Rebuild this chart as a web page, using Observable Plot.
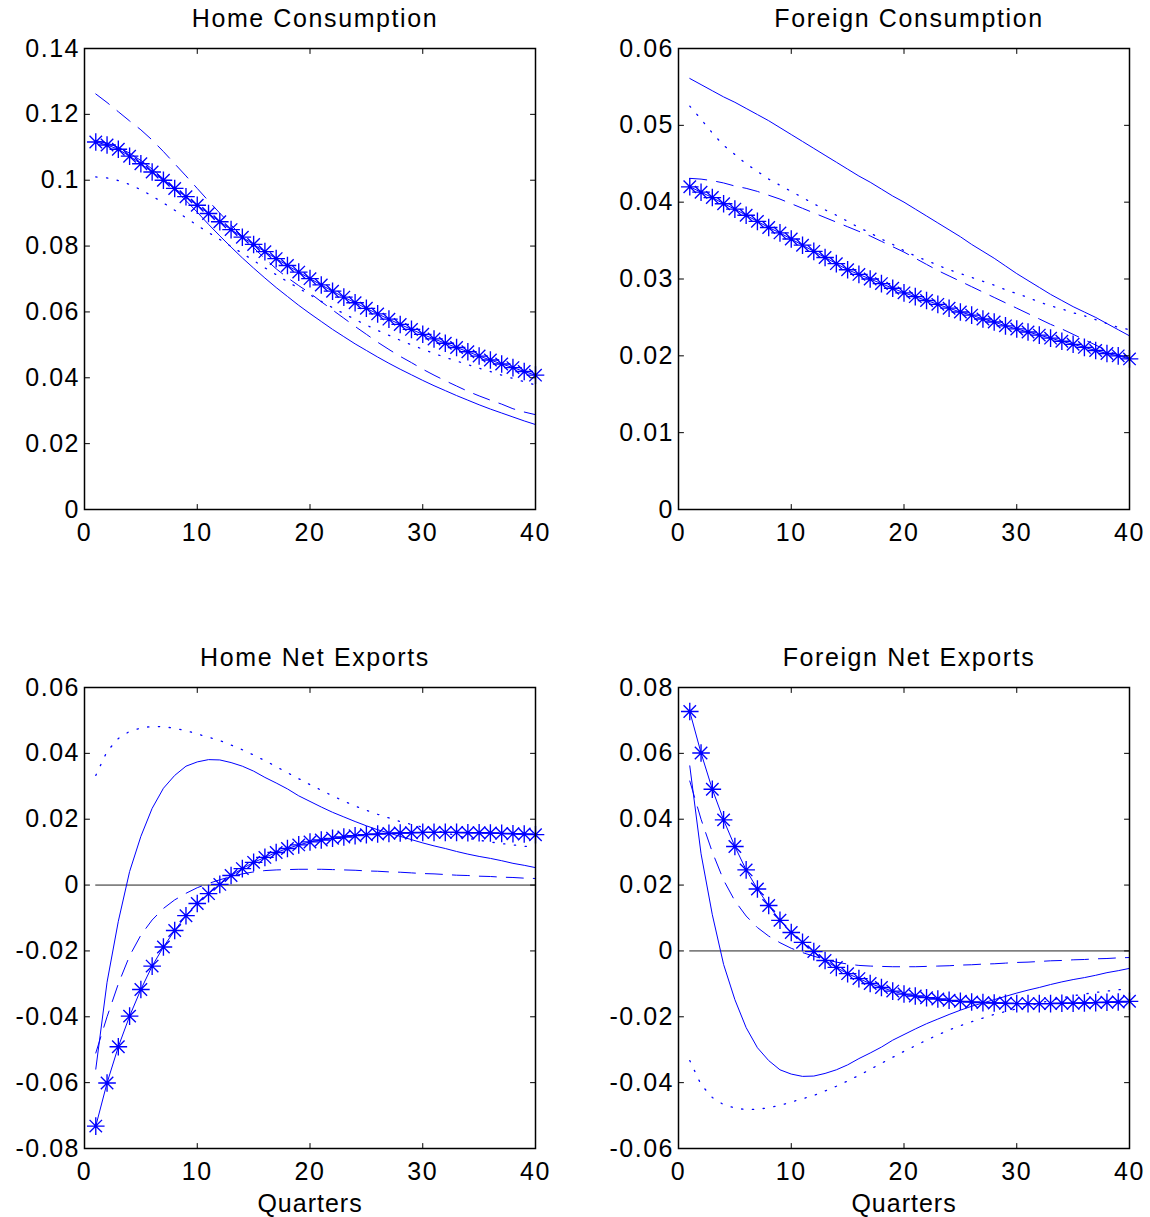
<!DOCTYPE html>
<html>
<head>
<meta charset="utf-8">
<script src="https://cdn.jsdelivr.net/npm/d3@7"></script>
<script src="https://cdn.jsdelivr.net/npm/@observablehq/plot@0.6"></script>
<style>
  html, body { margin: 0; padding: 0; background: #fff; }
  #chart { position: relative; width: 1150px; height: 1217px; background: #fff; }
  .panel { position: absolute; }
</style>
</head>
<body>
<div id="chart"></div>
<script>
// ---------- data ----------
const quarters = [1,2,3,4,5,6,7,8,9,10,11,12,13,14,15,16,17,18,19,20,21,22,23,24,25,26,27,28,29,30,31,32,33,34,35,36,37,38,39,40];
const xTicks = [0, 10, 20, 30, 40];

// Home Consumption
const hcTicks = [0, 0.02, 0.04, 0.06, 0.08, 0.1, 0.12, 0.14];
const hcSolid  = [.1120,.1113,.1100,.1082,.1060,.1034,.1004,.0972,.0938,.0903,.0866,.0831,.0797,.0764,.0733,.0703,.0674,.0647,.0620,.0595,.0571,.0547,.0525,.0503,.0483,.0463,.0444,.0426,.0409,.0392,.0376,.0361,.0346,.0332,.0318,.0305,.0293,.0281,.0269,.0258];
const hcDashed = [.1262,.1236,.1208,.1180,.1153,.1122,.1087,.1050,.1013,.0975,.0937,.0900,.0864,.0829,.0795,.0762,.0731,.0704,.0680,.0657,.0631,.0606,.0581,.0556,.0532,.0508,.0486,.0465,.0446,.0426,.0408,.0391,.0375,.0359,.0345,.0332,.0320,.0306,.0296,.0288];
const hcDotted = [.1010,.1007,.0999,.0987,.0971,.0952,.0931,.0909,.0886,.0863,.0841,.0820,.0799,.0778,.0756,.0734,.0713,.0692,.0672,.0652,.0632,.0613,.0595,.0577,.0560,.0544,.0529,.0514,.0500,.0487,.0474,.0462,.0451,.0440,.0429,.0419,.0408,.0398,.0388,.0378];
const hcStar   = [.1116,.1107,.1094,.1073,.1050,.1025,.1000,.0975,.0950,.0924,.0899,.0874,.0850,.0827,.0805,.0783,.0762,.0741,.0721,.0701,.0682,.0663,.0645,.0628,.0611,.0594,.0578,.0562,.0547,.0532,.0518,.0505,.0492,.0479,.0466,.0454,.0442,.0431,.0419,.0408];

// Foreign Consumption
const fcTicks = [0, 0.01, 0.02, 0.03, 0.04, 0.05, 0.06];
const fcSolid  = [.0561,.0553,.0545,.0537,.0530,.0522,.0514,.0506,.0497,.0488,.0479,.0470,.0461,.0452,.0443,.0434,.0426,.0417,.0408,.0400,.0391,.0382,.0373,.0364,.0355,.0345,.0336,.0327,.0317,.0307,.0298,.0289,.0280,.0272,.0264,.0257,.0250,.0242,.0234,.0226];
const fcDashed = [.0431,.0430,.0428,.0425,.0421,.0418,.0414,.0409,.0404,.0398,.0392,.0386,.0380,.0374,.0368,.0362,.0356,.0349,.0342,.0335,.0327,.0319,.0311,.0304,.0297,.0290,.0283,.0276,.0269,.0262,.0255,.0248,.0241,.0235,.0228,.0221,.0214,.0207,.0201,.0197];
const fcDotted = [.0525,.0508,.0490,.0474,.0462,.0450,.0440,.0430,.0422,.0414,.0406,.0398,.0390,.0383,.0375,.0367,.0360,.0352,.0345,.0337,.0330,.0324,.0318,.0312,.0307,.0302,.0297,.0292,.0286,.0281,.0276,.0270,.0265,.0261,.0256,.0252,.0247,.0242,.0237,.0234];
const fcStar   = [.0420,.0413,.0406,.0398,.0391,.0383,.0375,.0367,.0360,.0352,.0344,.0336,.0328,.0320,.0312,.0306,.0300,.0294,.0288,.0282,.0277,.0272,.0267,.0262,.0257,.0253,.0248,.0244,.0239,.0235,.0231,.0227,.0223,.0219,.0215,.0211,.0207,.0203,.0200,.0196];

// Home Net Exports
const hnTicks = [-0.08, -0.06, -0.04, -0.02, 0, 0.02, 0.04, 0.06];
const hnSolid  = [-.0559,-.0295,-.0110,.0041,.0148,.0233,.0294,.0333,.0361,.0374,.0381,.0380,.0372,.0361,.0346,.0327,.0310,.0292,.0271,.0254,.0237,.0221,.0207,.0193,.0180,.0168,.0158,.0148,.0138,.0128,.0119,.0111,.0102,.0094,.0087,.0081,.0074,.0066,.0060,.0053];
const hnDashed = [-.0510,-.0400,-.0300,-.0215,-.0152,-.0106,-.0071,-.0045,-.0025,-.0008,.0005,.0016,.0026,.0034,.0040,.0044,.0046,.0047,.0048,.0048,.0048,.0047,.0046,.0045,.0043,.0042,.0040,.0039,.0037,.0035,.0034,.0032,.0030,.0029,.0027,.0026,.0024,.0023,.0021,.0020];
const hnDotted = [.0333,.0406,.0445,.0467,.0477,.0482,.0481,.0476,.0469,.0459,.0449,.0439,.0425,.0411,.0395,.0378,.0360,.0341,.0323,.0305,.0288,.0271,.0255,.0240,.0227,.0215,.0204,.0193,.0184,.0176,.0167,.0159,.0150,.0142,.0136,.0131,.0126,.0122,.0118,.0114];
const hnStar   = [-.0732,-.0601,-.0491,-.0398,-.0317,-.0246,-.0188,-.0138,-.0093,-.0056,-.0026,.0002,.0029,.0050,.0069,.0084,.0099,.0111,.0122,.0131,.0137,.0142,.0146,.0150,.0153,.0155,.0157,.0158,.0159,.0160,.0160,.0160,.0160,.0159,.0159,.0158,.0157,.0156,.0155,.0153];

// Foreign Net Exports
const fnTicks = [-0.06, -0.04, -0.02, 0, 0.02, 0.04, 0.06, 0.08];
const fnSolid  = [.0562,.0295,.0110,-.0041,-.0148,-.0233,-.0294,-.0333,-.0361,-.0374,-.0381,-.0380,-.0372,-.0361,-.0346,-.0327,-.0310,-.0292,-.0271,-.0254,-.0237,-.0221,-.0207,-.0193,-.0180,-.0168,-.0158,-.0148,-.0138,-.0128,-.0119,-.0111,-.0102,-.0094,-.0087,-.0081,-.0074,-.0066,-.0060,-.0053];
const fnDashed = [.0516,.0400,.0300,.0215,.0152,.0106,.0071,.0045,.0025,.0008,-.0005,-.0016,-.0026,-.0034,-.0040,-.0044,-.0046,-.0047,-.0048,-.0048,-.0048,-.0047,-.0046,-.0045,-.0043,-.0042,-.0040,-.0039,-.0037,-.0035,-.0034,-.0032,-.0030,-.0029,-.0027,-.0026,-.0024,-.0023,-.0021,-.0020];
const fnDotted = [-.0333,-.0406,-.0445,-.0467,-.0477,-.0482,-.0481,-.0476,-.0469,-.0459,-.0449,-.0439,-.0425,-.0411,-.0395,-.0378,-.0360,-.0341,-.0323,-.0305,-.0288,-.0271,-.0255,-.0240,-.0227,-.0215,-.0204,-.0193,-.0184,-.0176,-.0167,-.0159,-.0150,-.0142,-.0136,-.0131,-.0126,-.0122,-.0118,-.0114];
const fnStar   = [.0727,.0601,.0491,.0398,.0317,.0246,.0188,.0138,.0093,.0056,.0026,-.0002,-.0029,-.0050,-.0069,-.0084,-.0099,-.0111,-.0122,-.0131,-.0137,-.0142,-.0146,-.0150,-.0153,-.0155,-.0157,-.0158,-.0159,-.0160,-.0160,-.0160,-.0160,-.0159,-.0159,-.0158,-.0157,-.0156,-.0155,-.0153];

// ---------- drawing ----------
const BLUE = "#0000ff";
const FONT = "'Liberation Sans', Arial, Helvetica, sans-serif";
const tickShape = { draw(ctx, l) { ctx.moveTo(0, 0); ctx.lineTo(0, -l); } };
const starSymbol = {
  draw(ctx, size) {
    const r = Math.sqrt(size / Math.PI), d = r * Math.SQRT1_2;
    ctx.moveTo(-r, 0); ctx.lineTo(r, 0);
    ctx.moveTo(0, -r); ctx.lineTo(0, r);
    ctx.moveTo(-d, -d); ctx.lineTo(d, d);
    ctx.moveTo(-d, d); ctx.lineTo(d, -d);
  }
};
const rows = (vals) => quarters.map((q, i) => ({ q, v: vals[i] }));
const fmt = (d) => String(d);

function panel(cfg) {
  const xDom = [xTicks[0], xTicks[xTicks.length - 1]];
  const yDom = [cfg.yTicks[0], cfg.yTicks[cfg.yTicks.length - 1]];
  const tk = { length: 5, anchor: "start", shape: tickShape, stroke: "black", strokeWidth: 1 };
  const marks = [
    Plot.axisX({ ticks: xTicks, anchor: "bottom", label: null, tickSize: 0, tickPadding: 14, tickFormat: fmt, fontSize: 25, fill: "black" }),
    Plot.axisY({ ticks: cfg.yTicks, anchor: "left", label: null, tickSize: 0, tickPadding: 4.5, tickFormat: fmt, fontSize: 25, fill: "black" }),
  ];
  if (cfg.zero) {
    marks.push(Plot.ruleY([0], { x1: quarters[0], x2: quarters[quarters.length - 1], stroke: "#222", strokeWidth: 1 }));
  }
  marks.push(
    Plot.line(rows(cfg.solid), { x: "q", y: "v", stroke: BLUE, strokeWidth: 1 }),
    Plot.line(rows(cfg.dashed), { x: "q", y: "v", stroke: BLUE, strokeWidth: 1, strokeDasharray: "17,10" }),
    Plot.line(rows(cfg.dotted), { x: "q", y: "v", stroke: BLUE, strokeWidth: 1.3, strokeDasharray: "1.3,9.5" }),
    Plot.line(rows(cfg.star), { x: "q", y: "v", stroke: BLUE, strokeWidth: 1 }),
    Plot.dot(rows(cfg.star), { x: "q", y: "v", symbol: starSymbol, r: 8.8, stroke: BLUE, fill: "none", strokeWidth: 1.35 }),
    Plot.vector(xTicks, { ...tk, x: (d) => d, y: yDom[0], rotate: 0 }),
    Plot.vector(xTicks, { ...tk, x: (d) => d, y: yDom[1], rotate: 180 }),
    Plot.vector(cfg.yTicks, { ...tk, x: xDom[0], y: (d) => d, rotate: 90 }),
    Plot.vector(cfg.yTicks, { ...tk, x: xDom[1], y: (d) => d, rotate: 270 }),
    Plot.frame({ stroke: "black", strokeWidth: 1.5 }),
    Plot.text([cfg.title], { frameAnchor: "top", lineAnchor: "middle", dy: -30, dx: 5, fontSize: 25, fill: "black" })
  );
  if (cfg.xlabel) {
    marks.push(Plot.text([cfg.xlabel], { frameAnchor: "bottom", lineAnchor: "middle", dy: 55, fontSize: 25, fill: "black" }));
  }
  const svg = Plot.plot({
    width: cfg.width, height: cfg.height,
    marginLeft: cfg.ml, marginRight: cfg.mr, marginTop: cfg.mt, marginBottom: cfg.mb,
    x: { domain: xDom, axis: null },
    y: { domain: yDom, axis: null },
    style: { fontFamily: FONT, fontSize: "25px", background: "white", overflow: "visible", color: "black" },
    marks
  });
  svg.querySelectorAll('g[aria-label="x-axis tick label"] text, g[aria-label="y-axis tick label"] text')
    .forEach((t) => t.style.letterSpacing = "1.5px");
  svg.querySelectorAll('g[aria-label="text"] text')
    .forEach((t) => t.style.letterSpacing = t.textContent === cfg.title ? "1.6px" : "1px");
  const div = document.createElement("div");
  div.className = "panel";
  div.style.left = cfg.left + "px";
  div.style.top = cfg.top + "px";
  div.appendChild(svg);
  document.getElementById("chart").appendChild(div);
}

panel({ title: "Home Consumption", yTicks: hcTicks, solid: hcSolid, dashed: hcDashed, dotted: hcDotted, star: hcStar,
  left: 0, top: 0, width: 575, height: 600, ml: 84, mr: 40, mt: 48, mb: 91 });
panel({ title: "Foreign Consumption", yTicks: fcTicks, solid: fcSolid, dashed: fcDashed, dotted: fcDotted, star: fcStar,
  left: 575, top: 0, width: 575, height: 600, ml: 103, mr: 21, mt: 48, mb: 91 });
panel({ title: "Home Net Exports", yTicks: hnTicks, solid: hnSolid, dashed: hnDashed, dotted: hnDotted, star: hnStar, zero: true, xlabel: "Quarters",
  left: 0, top: 620, width: 575, height: 597, ml: 84, mr: 40, mt: 67, mb: 69 });
panel({ title: "Foreign Net Exports", yTicks: fnTicks, solid: fnSolid, dashed: fnDashed, dotted: fnDotted, star: fnStar, zero: true, xlabel: "Quarters",
  left: 575, top: 620, width: 575, height: 597, ml: 103, mr: 21, mt: 67, mb: 69 });
</script>
</body>
</html>
